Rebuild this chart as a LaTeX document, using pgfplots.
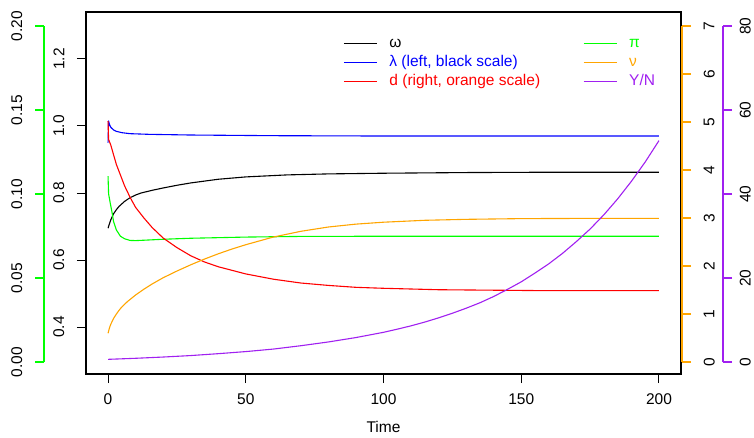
\documentclass[border=0pt]{standalone}
\usepackage{pgfplots}
\pgfplotsset{compat=1.18}
\usepackage{fontspec}
\setmainfont{Liberation Sans}
\definecolor{rgreen}{RGB}{0,255,0}
\definecolor{rorange}{RGB}{255,165,0}
\definecolor{rpurple}{RGB}{160,32,240}
\definecolor{rblue}{RGB}{0,0,255}
\definecolor{rred}{RGB}{255,0,0}
\pgfplotsset{
  base/.style={scale only axis, width=595pt, height=362pt, at={(86pt,63pt)}, anchor=south west, xmin=-8, xmax=208, /pgf/number format/assume math mode=true},
  curve/.style={no markers, line width=1.1pt, line join=round},
  deco/.style={scale only axis, width=1pt, height=336pt, anchor=south west, xmin=0, xmax=1, axis x line=none,
     tick align=outside, major tick length=9pt, yticklabel shift=12.5pt,
     /pgf/number format/assume math mode=true,
     yticklabel style={rotate=90, inner sep=0pt, black}},
  rlegend/.style={legend cell align=left, legend style={draw=none, fill=none, inner sep=0pt, row sep=3.3pt, column sep=0pt,
     nodes={inner sep=0pt, text height=11.5pt, text depth=4pt}},
     legend image post style={line width=1.2pt},
     legend image code/.code={\draw[line width=1.2pt] (0pt,0pt) -- (33pt,0pt); \path (45pt,0pt);}},
}
\begin{document}
\begin{tikzpicture}[font=\fontsize{15.5}{18.6}\selectfont]
\useasboundingbox (0,0) rectangle (754pt,437pt);
% main axis: box, time axis, black scale
\begin{axis}[base, ymin=0.26, ymax=1.34,
  axis line style={line width=1.2pt},
  tick align=outside, major tick length=9pt, tick style={black, line width=1pt},
  xtick={0,50,100,150,200}, ytick={0.4,0.6,0.8,1.0,1.2},
  xtick pos=bottom, ytick pos=left,
  xticklabel shift=10pt, yticklabel shift=12.5pt,
  xticklabel style={inner sep=0pt},
  yticklabel style={rotate=90, inner sep=0pt, /pgf/number format/fixed, /pgf/number format/precision=1, /pgf/number format/fixed zerofill},
  xlabel={Time}, xlabel style={at={(axis description cs:0.5,0)}, anchor=base, yshift=-58pt, inner sep=0pt},
  rlegend, legend style={at={(0.432,0.934)}, anchor=north west},
]
\addplot[curve, black] coordinates {(0,0.695) (0.5,0.708) (1,0.72) (2,0.738) (3,0.750) (4,0.760) (6,0.775) (8,0.786) (10,0.794) (12,0.800) (16,0.808) (20,0.815) (25,0.823) (30,0.830) (40,0.841) (50,0.848) (65,0.854) (80,0.857) (100,0.859) (130,0.861) (160,0.862) (200,0.862)};
\addlegendentry{ω}
\addplot[curve, rblue] coordinates {(0,0.95) (0.2,1.015) (0.5,1.005) (1,0.996) (2,0.988) (3,0.984) (5,0.980) (8,0.977) (15,0.975) (30,0.973) (60,0.971) (100,0.970) (200,0.970)};
\addlegendentry{\textcolor{rblue}{λ (left, black scale)}}
\addlegendimage{rred, line width=1.2pt}
\addlegendentry{\textcolor{rred}{d (right, orange scale)}}
\end{axis}
% green scale data
\begin{axis}[base, ymin=-0.008, ymax=0.208, hide axis]
\addplot[curve, rgreen] coordinates {(0,0.110) (0.2,0.0995) (0.8,0.094) (1.5,0.088) (2,0.083) (3,0.078) (4.5,0.0742) (6,0.0727) (8,0.0717) (10,0.0716) (14,0.0719) (20,0.0724) (30,0.0730) (50,0.0737) (70,0.0741) (100,0.0742) (200,0.0742)};
\end{axis}
% orange scale data
\begin{axis}[base, ymin=-0.28, ymax=7.28, hide axis]
\addplot[curve, rred] coordinates {(0,5.0) (0.2,4.62) (1,4.5) (2,4.3) (3,4.1) (4,3.95) (6,3.65) (8,3.41) (10,3.20) (13,2.98) (16,2.78) (20,2.56) (25,2.36) (30,2.19) (35,2.06) (40,1.96) (50,1.81) (60,1.70) (70,1.62) (80,1.57) (90,1.53) (100,1.51) (120,1.48) (140,1.47) (160,1.46) (200,1.46)};
\addplot[curve, rorange] coordinates {(0,0.57) (0.5,0.68) (1,0.76) (2,0.88) (3,0.97) (4,1.05) (5,1.12) (7,1.23) (10,1.37) (13,1.49) (16,1.60) (20,1.73) (25,1.87) (30,2.00) (35,2.12) (40,2.23) (45,2.33) (50,2.42) (55,2.50) (60,2.58) (65,2.64) (70,2.70) (80,2.79) (90,2.85) (100,2.89) (115,2.93) (130,2.95) (150,2.965) (175,2.97) (200,2.97)};
\end{axis}
% purple scale data + right legend
\begin{axis}[base, ymin=-3.2, ymax=83.2, hide axis,
  rlegend, legend style={at={(0.835,0.934)}, anchor=north west}]
\addplot[curve, rpurple, forget plot] coordinates {(0,0.3) (10,0.55) (20,0.85) (30,1.2) (40,1.65) (50,2.15) (60,2.75) (70,3.55) (80,4.45) (90,5.5) (100,6.75) (105,7.5) (110,8.3) (115,9.2) (120,10.2) (125,11.3) (130,12.5) (135,13.8) (140,15.3) (145,17.0) (150,18.8) (155,20.9) (160,23.1) (165,25.6) (170,28.4) (175,31.4) (180,34.8) (185,38.6) (190,42.8) (195,47.4) (200,52.5)};
\addlegendimage{rgreen, line width=1.2pt}
\addlegendentry{\textcolor{rgreen}{π}}
\addlegendimage{rorange, line width=1.2pt}
\addlegendentry{\textcolor{rorange}{ν}}
\addlegendimage{rpurple, line width=1.2pt}
\addlegendentry{\textcolor{rpurple}{Y/N}}
\end{axis}
% green axis (far left)
\begin{axis}[deco, at={(44pt,75pt)}, ymin=0, ymax=0.2, axis y line*=left,
  axis line style={rgreen, line width=1.1pt}, tick style={rgreen, line width=1.1pt},
  ytick={0,0.05,0.1,0.15,0.2},
  yticklabel style={anchor=south, /pgf/number format/fixed, /pgf/number format/precision=2, /pgf/number format/fixed zerofill}]
\addplot[draw=none] coordinates {(0,0)};
\end{axis}
% orange axis (right)
\begin{axis}[deco, at={(681pt,75pt)}, ymin=0, ymax=7, axis y line*=left,
  axis line style={rorange, line width=1.1pt}, tick style={rorange, line width=1.1pt},
  ytick={0,1,2,3,4,5,6,7}, yticklabel pos=right, ytick pos=right,
  yticklabel style={anchor=north}]
\addplot[draw=none] coordinates {(0,0)};
\end{axis}
% purple axis (far right)
\begin{axis}[deco, at={(722pt,75pt)}, ymin=0, ymax=80, axis y line*=left, yticklabel shift=7.5pt,
  axis line style={rpurple, line width=1.1pt}, tick style={rpurple, line width=1.1pt},
  ytick={0,20,40,60,80}, yticklabel pos=right, ytick pos=right,
  yticklabel style={anchor=north}]
\addplot[draw=none] coordinates {(0,0)};
\end{axis}
\end{tikzpicture}
\end{document}
